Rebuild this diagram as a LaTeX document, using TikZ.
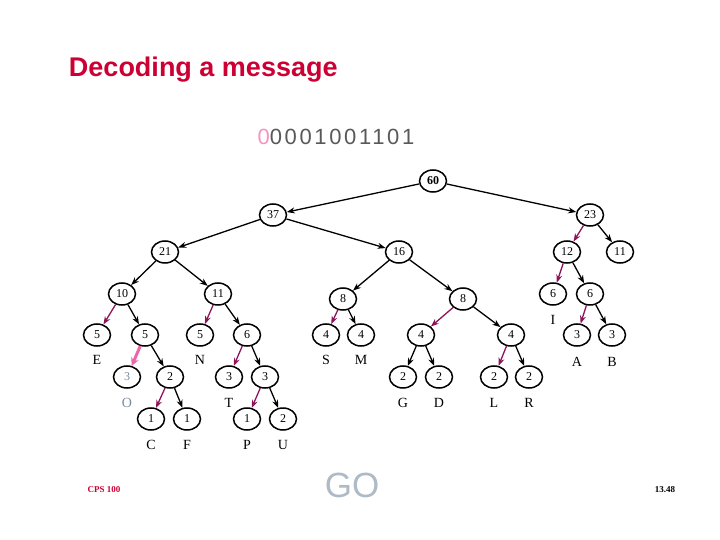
\documentclass[tikz,border=0pt]{standalone}
\usepackage{fontspec}
\setmainfont{Liberation Serif}
\setsansfont{Liberation Sans}
\usetikzlibrary{shapes.geometric,arrows.meta}
\definecolor{titlered}{RGB}{204,0,51}
\definecolor{zeroedge}{RGB}{140,20,90}
\definecolor{pathpink}{RGB}{240,100,170}
\definecolor{gogray}{RGB}{120,140,160}

\begin{document}
\begin{tikzpicture}[x=1pt, y=-1pt, line width=1.3pt,
    knot/.style={ellipse, draw, line width=1.5pt, minimum width=27pt, minimum height=22pt, inner sep=0pt, font=\fontsize{12}{12}\selectfont},
    letter/.style={font=\fontsize{14}{14}\selectfont},
    one/.style={-{Stealth[length=8pt, width=6pt]}, black},
    zero/.style={-{Stealth[length=8pt, width=6pt]}, zeroedge},
    walk/.style={-{Stealth[length=8pt, width=8pt]}, pathpink, line width=3pt}]
    \useasboundingbox (0,0) rectangle (720,540);

    % Kopf.
    \node[anchor=west, font=\fontsize{27}{30}\selectfont\sffamily\bfseries, text=titlered] (title) at (65,70) {Decoding a message};
    \node[font=\fontsize{22}{24}\selectfont\sffamily\addfontfeature{LetterSpace=12}, text=black!65] (bits) at (336,137) {\textcolor{pathpink!70}{0}0001001101};

    % Knoten.
    \node[knot, font=\fontsize{12}{12}\selectfont\bfseries] (n60) at (433,181) {60};
    \node[knot] (n37) at (273,215) {37};
    \node[knot] (n23) at (590,215) {23};
    \node[knot] (n21) at (165,252) {21};
    \node[knot] (n16) at (399,252) {16};
    \node[knot] (n12) at (567,252) {12};
    \node[knot] (n11b) at (620,252) {11};
    \node[knot] (n10) at (122,294) {10};
    \node[knot] (n11) at (218,294) {11};
    \node[knot] (n8a) at (343,299) {8};
    \node[knot] (n8b) at (463,299) {8};
    \node[knot] (n6i) at (553,294) {6};
    \node[knot] (n6r) at (590,294) {6};
    \node[knot] (n5e) at (97,335) {5};
    \node[knot] (n5) at (145,335) {5};
    \node[knot] (n5n) at (200,335) {5};
    \node[knot] (n6) at (247,335) {6};
    \node[knot] (n4s) at (326,335) {4};
    \node[knot] (n4m) at (361,335) {4};
    \node[knot] (n4a) at (421,335) {4};
    \node[knot] (n4b) at (511,335) {4};
    \node[knot] (n3a) at (577,335) {3};
    \node[knot] (n3b) at (612,335) {3};
    \node[knot, text=gogray] (n3o) at (127,377) {3};
    \node[knot] (n2) at (170,377) {2};
    \node[knot] (n3t) at (229,377) {3};
    \node[knot] (n3) at (265,377) {3};
    \node[knot] (n2g) at (403,377) {2};
    \node[knot] (n2d) at (439,377) {2};
    \node[knot] (n2l) at (494,377) {2};
    \node[knot] (n2r) at (529,377) {2};
    \node[knot] (n1c) at (151,419) {1};
    \node[knot] (n1f) at (187,419) {1};
    \node[knot] (n1p) at (247,419) {1};
    \node[knot] (n2u) at (283,419) {2};

    % Kanten.
    \draw[one] (n60) -- (n37);
    \draw[one] (n60) -- (n23);
    \draw[one] (n37) -- (n21);
    \draw[one] (n37) -- (n16);
    \draw[zero] (n23) -- (n12);
    \draw[one] (n23) -- (n11b);
    \draw[one] (n21) -- (n10);
    \draw[one] (n21) -- (n11);
    \draw[one] (n16) -- (n8a);
    \draw[one] (n16) -- (n8b);
    \draw[zero] (n12) -- (n6i);
    \draw[one] (n12) -- (n6r);
    \draw[zero] (n10) -- (n5e);
    \draw[one] (n10) -- (n5);
    \draw[zero] (n11) -- (n5n);
    \draw[one] (n11) -- (n6);
    \draw[zero] (n8a) -- (n4s);
    \draw[one] (n8a) -- (n4m);
    \draw[zero] (n8b) -- (n4a);
    \draw[one] (n8b) -- (n4b);
    \draw[zero] (n6r) -- (n3a);
    \draw[one] (n6r) -- (n3b);
    \draw[walk] (n5) -- (n3o);
    \draw[one] (n5) -- (n2);
    \draw[zero] (n6) -- (n3t);
    \draw[one] (n6) -- (n3);
    \draw[one] (n4a) -- (n2g);
    \draw[one] (n4a) -- (n2d);
    \draw[zero] (n4b) -- (n2l);
    \draw[one] (n4b) -- (n2r);
    \draw[zero] (n2) -- (n1c);
    \draw[one] (n2) -- (n1f);
    \draw[zero] (n3) -- (n1p);
    \draw[one] (n3) -- (n2u);

    % Beschriftung.
    \node[letter] (le) at (97,360) {E};
    \node[letter] (ln) at (200,360) {N};
    \node[letter] (ls) at (326,360) {S};
    \node[letter] (lm) at (361,360) {M};
    \node[letter] (li) at (553,320) {I};
    \node[letter] (la) at (577,362) {A};
    \node[letter] (lb) at (612,362) {B};
    \node[letter, text=gogray] (lo) at (127,403) {O};
    \node[letter] (lt) at (229,403) {T};
    \node[letter] (lg) at (403,403) {G};
    \node[letter] (ld) at (439,403) {D};
    \node[letter] (ll) at (494,403) {L};
    \node[letter] (lr) at (529,403) {R};
    \node[letter] (lc) at (151,445) {C};
    \node[letter] (lf) at (187,445) {F};
    \node[letter] (lp) at (247,445) {P};
    \node[letter] (lu) at (283,445) {U};

    % Fuss.
    \node[font=\fontsize{35}{36}\selectfont\sffamily, text=gogray!60] (go) at (352,485) {GO};
    \node[font=\fontsize{9}{9}\selectfont\bfseries, text=titlered] (course) at (104,490) {CPS 100};
    \node[font=\fontsize{9}{9}\selectfont\bfseries] (page) at (665,490) {13.48};
\end{tikzpicture}
\end{document}
